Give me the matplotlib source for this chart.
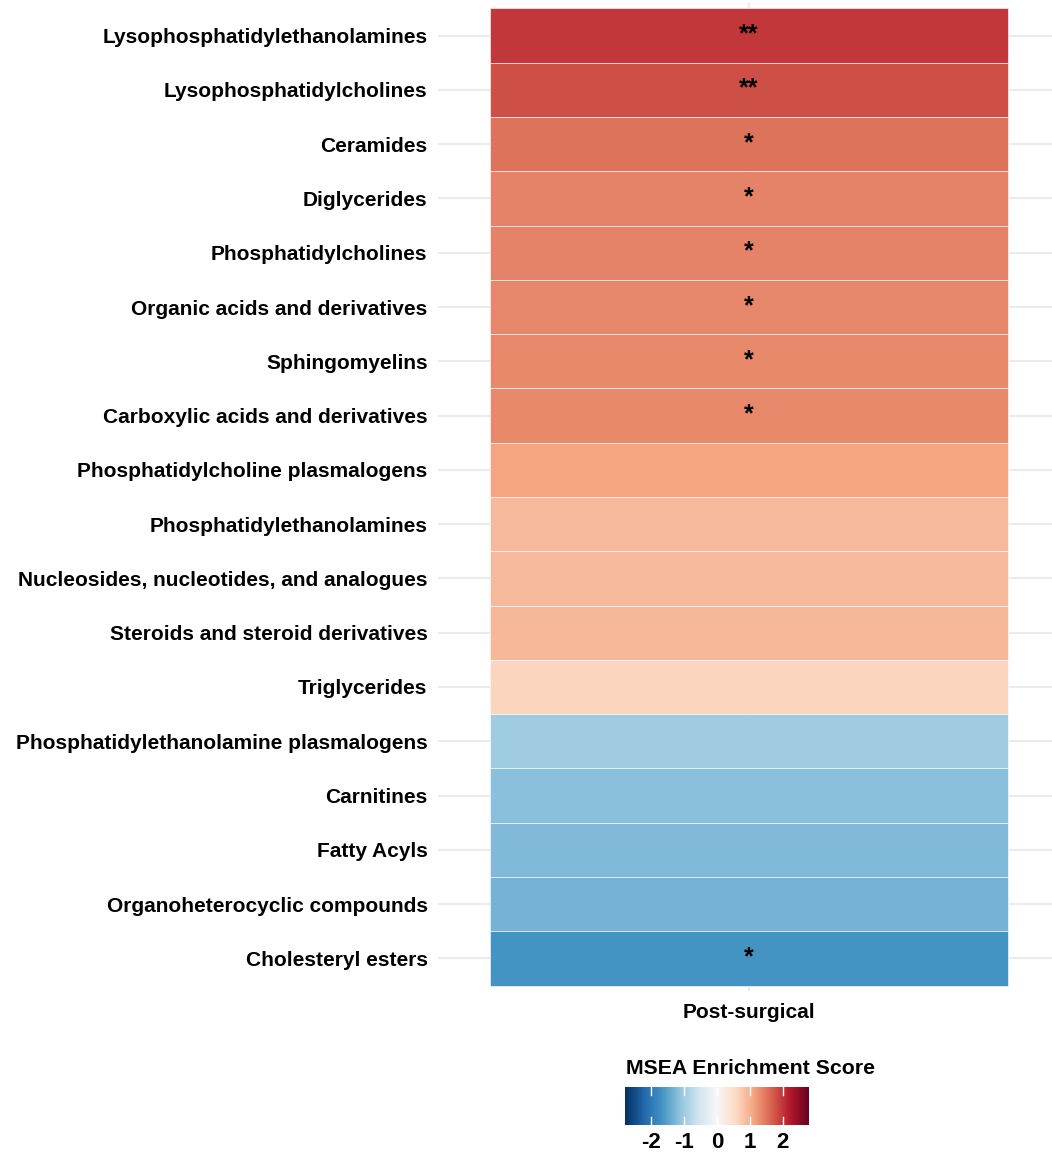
import numpy as np

import matplotlib
matplotlib.use("Agg")
import matplotlib.pyplot as plt
from matplotlib.colors import Normalize
from matplotlib.cm import ScalarMappable


# -----------------------------------------------------------------------------
# Data
# -----------------------------------------------------------------------------

classes = [
    "Lysophosphatidylethanolamines",
    "Lysophosphatidylcholines",
    "Ceramides",
    "Diglycerides",
    "Phosphatidylcholines",
    "Organic acids and derivatives",
    "Sphingomyelins",
    "Carboxylic acids and derivatives",
    "Phosphatidylcholine plasmalogens",
    "Phosphatidylethanolamines",
    "Nucleosides, nucleotides, and analogues",
    "Steroids and steroid derivatives",
    "Triglycerides",
    "Phosphatidylethanolamine plasmalogens",
    "Carnitines",
    "Fatty Acyls",
    "Organoheterocyclic compounds",
    "Cholesteryl esters",
]

enrichment = [
    1.99, 1.80, 1.51, 1.40, 1.40, 1.36, 1.34, 1.35, 1.11,
    0.91, 0.91, 0.92, 0.62, -1.00, -1.18, -1.23, -1.32, -1.68,
]

signif = ["**", "**", "*", "*", "*", "*", "*", "*", "",
          "", "", "", "", "", "", "", "", "*"]

group = "Post-surgical"
score_lim = 2.8
cbar_ticks = [-2, -1, 0, 1, 2]


# -----------------------------------------------------------------------------
# Plot
# -----------------------------------------------------------------------------

plt.rcParams["font.family"] = ["Liberation Sans", "DejaVu Sans"]

W, H = 1052, 1157
fig = plt.figure(figsize=(W / 100, H / 100), dpi=100)

ax = fig.add_axes([438 / W, (H - 991) / H, 614 / W, 988 / H])

cmap = plt.get_cmap("RdBu_r")
norm = Normalize(vmin=-score_lim, vmax=score_lim)

n = len(classes)
# row 0 at the top
for i, (name, val, s) in enumerate(zip(classes, enrichment, signif)):
    y = n - 1 - i
    ax.axhline(y, color="#EBEBEB", linewidth=1.5, zorder=0)
    ax.add_patch(plt.Rectangle((-0.5, y - 0.5), 1.0, 1.0,
                               facecolor=cmap(norm(val)),
                               edgecolor=(1, 1, 1, 0.7), linewidth=0.6,
                               zorder=2))
    if s:
        ax.text(0, y + 0.02, s, ha="center", va="center",
                fontsize=18, fontweight="bold", zorder=3)

ax.axvline(0, color="#EBEBEB", linewidth=1.5, zorder=0)

ax.set_xlim(-0.6, 0.585)
ax.set_ylim(-0.6, n - 0.4)

ax.set_yticks(range(n))
ax.set_yticklabels(classes[::-1], fontsize=15, fontweight="bold")
ax.set_xticks([0])
ax.set_xticklabels([group], fontsize=15, fontweight="bold")
ax.tick_params(axis="y", length=0, pad=7.5)
ax.tick_params(axis="x", length=0, pad=8.5)
for side in ax.spines.values():
    side.set_visible(False)

# colour bar legend
cax = fig.add_axes([625 / W, (H - 1125) / H, 184 / W, 38 / H])
sm = ScalarMappable(norm=norm, cmap=cmap)
cb = fig.colorbar(sm, cax=cax, orientation="horizontal", ticks=cbar_ticks)
cb.outline.set_visible(False)
cax.tick_params(length=0, pad=5)
cax.set_xticklabels([str(t) for t in cbar_ticks])
for t in cax.get_xticklabels():
    t.set_fontsize(16)
    t.set_fontweight("bold")
for t in cbar_ticks:
    cax.plot([t, t], [0, 0.2], color="white", linewidth=1.0,
             transform=cax.get_xaxis_transform())
    cax.plot([t, t], [0.8, 1.0], color="white", linewidth=1.0,
             transform=cax.get_xaxis_transform())

fig.text(626 / W, (H - 1068) / H, "MSEA Enrichment Score",
         ha="left", va="center", fontsize=15.3, fontweight="bold")

fig.savefig("out.png", dpi=100)
